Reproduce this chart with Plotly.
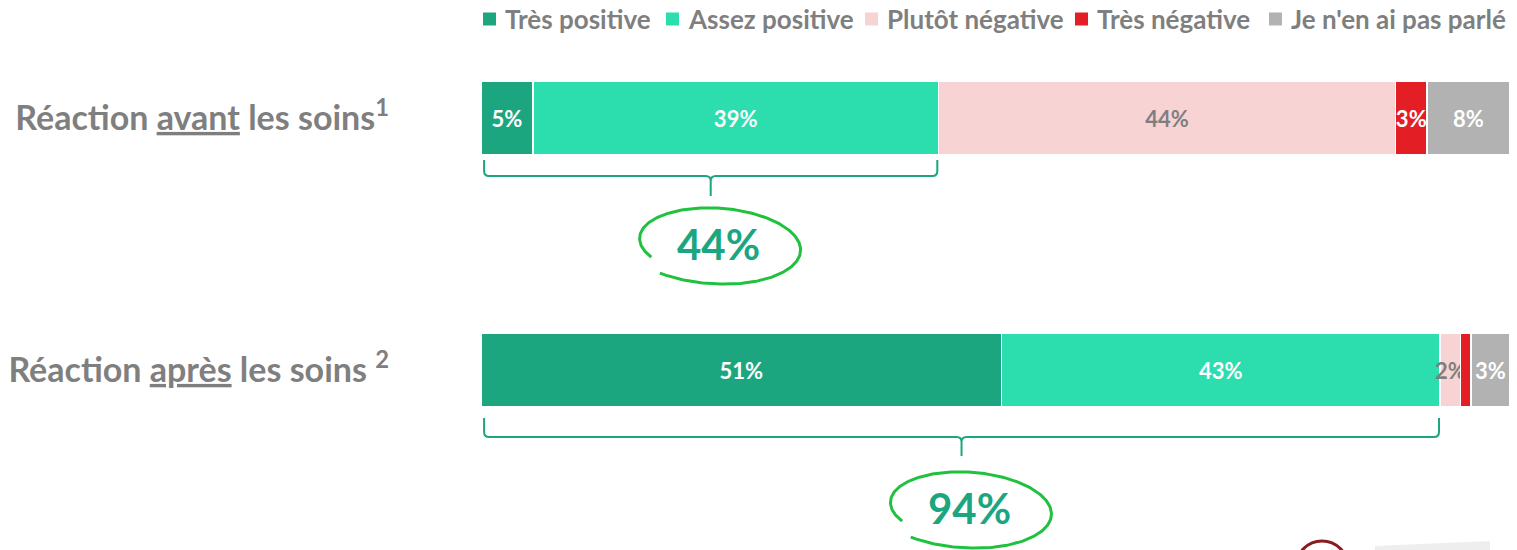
import numpy as np
import plotly.graph_objects as go

# ---------------- data ----------------
ROW_LABELS = ["<b>Réaction <u>avant</u> les soins<sup>1</sup></b>",
              "<b>Réaction <u>après</u> les soins <sup>2</sup></b>"]
ROW_Y = [1, 0]
CATEGORIES = ["Très positive", "Assez positive", "Plutôt négative", "Très négative", "Je n'en ai pas parlé"]
VALUES_AVANT = [5, 39, 44, 3, 8]
VALUES_APRES = [50.6, 42.6, 2.0, 1.0, 3.8]
LABELS_AVANT = ["5%", "39%", "44%", "3%", "8%"]
LABELS_APRES = ["51%", "43%", "2%", "", "3%"]
POSITIVE_TOTAL_LABELS = ["44%", "94%"]

# ---------------- style ----------------
COLORS = ["#1CA680", "#2CDDAE", "#F8D3D4", "#E31E25", "#B1B2B1"]
TEXT_COLORS = ["white", "white", "#7F7F7F", "white", "white"]
GRAY = "#7F7F7F"
BRACE_COLOR = "#1CA680"
ELLIPSE_COLOR = "#1FC13E"
FONT = "Lato"

W, H = 1517, 550
M_L, M_R, M_T, M_B = 481, 7, 30, 0
PLOT_W = W - M_L - M_R
PLOT_H = H - M_T - M_B
ROW_PX = [118, 370]               # pixel centre of each row
PX_Y = ROW_PX[1] - ROW_PX[0]      # pixels per y unit
PX_X = PLOT_W / 100.0             # pixels per x unit
Y_TOP = ROW_Y[0] + (ROW_PX[0] - M_T) / PX_Y
Y_BOT = Y_TOP - PLOT_H / PX_Y

BRACE_OFFS = [(42, 58, 78), (48, 67, 86)]   # px below row centre: top, line, tip
ELLIPSE_OFF = [126, 138]
ELLIPSE_DX = 5

fig = go.Figure()
series = [VALUES_AVANT, VALUES_APRES]
labels = [LABELS_AVANT, LABELS_APRES]
for i, cat in enumerate(CATEGORIES):
    fig.add_trace(go.Bar(
        orientation="h", name=cat,
        y=ROW_Y, x=[series[0][i], series[1][i]],
        marker=dict(color=COLORS[i], line=dict(color="white", width=1.5)),
        text=[labels[0][i], labels[1][i]],
        textposition="inside", insidetextanchor="middle",
        constraintext="none", textangle=0,
        textfont=dict(family=FONT, size=22, color=TEXT_COLORS[i], weight=700),
        width=73 / PX_Y, hoverinfo="skip", showlegend=False,
    ))

shapes = []
annotations = []
for r, vals in enumerate(series):
    total = sum(vals)
    pos_end = (vals[0] + vals[1]) / total * 100
    yc = ROW_Y[r]
    top, line, tip = BRACE_OFFS[r]
    y_top = yc - top / PX_Y
    y_line = yc - line / PX_Y
    y_tip = yc - tip / PX_Y
    hx, hy = 5 / PX_X, 5 / PX_Y
    x0, x1 = 0.3, pos_end - 0.1
    xm = (x0 + x1) / 2
    path = (f"M{x0},{y_top} L{x0},{y_line + hy} Q{x0},{y_line} {x0 + hx},{y_line} "
            f"L{xm - hx},{y_line} Q{xm},{y_line} {xm},{y_line - hy} L{xm},{y_tip} "
            f"M{x1},{y_top} L{x1},{y_line + hy} Q{x1},{y_line} {x1 - hx},{y_line} "
            f"L{xm + hx},{y_line} Q{xm},{y_line} {xm},{y_line - hy}")
    shapes.append(dict(type="path", xref="x", yref="y", path=path,
                       line=dict(color=BRACE_COLOR, width=2)))

    # hand-drawn ellipse
    cx = xm + ELLIPSE_DX / PX_X
    cy = yc - ELLIPSE_OFF[r] / PX_Y
    t = np.linspace(np.radians(212), np.radians(212 - 338), 240)
    s = np.linspace(0, 1, t.size)
    rr = 0.9 + 0.2 * s
    rx, ry = 83, 37
    xs = rx * rr * np.cos(t)
    ys = -ry * rr * np.sin(t)
    phi = np.radians(4)
    X = xs * np.cos(phi) - ys * np.sin(phi)
    Y = xs * np.sin(phi) + ys * np.cos(phi)
    fig.add_trace(go.Scatter(x=cx + X / PX_X, y=cy - Y / PX_Y, mode="lines",
                             line=dict(color=ELLIPSE_COLOR, width=3),
                             hoverinfo="skip", showlegend=False))
    annotations.append(dict(x=cx + 3 / PX_X, y=cy, xref="x", yref="y",
                            text=f"<b>{POSITIVE_TOTAL_LABELS[r]}</b>", showarrow=False,
                            font=dict(family=FONT, size=42, color=BRACE_COLOR)))

# manual legend (top right)
LEGEND_PX = [483, 666, 865, 1075, 1269]
LEG_Y = 19
for i, cat in enumerate(CATEGORIES):
    px0 = LEGEND_PX[i]
    shapes.append(dict(type="rect", xref="paper", yref="paper",
                       x0=(px0 - M_L) / PLOT_W, x1=(px0 + 13 - M_L) / PLOT_W,
                       y0=(H - M_B - (LEG_Y + 6.5)) / PLOT_H, y1=(H - M_B - (LEG_Y - 6.5)) / PLOT_H,
                       fillcolor=COLORS[i], line=dict(width=0)))
    annotations.append(dict(x=(px0 + 20 - M_L) / PLOT_W, y=(H - M_B - LEG_Y) / PLOT_H,
                            xref="paper", yref="paper", xanchor="left", yanchor="middle",
                            text=f"<b>{cat}</b>", showarrow=False,
                            font=dict(family=FONT, size=26, color=GRAY)))

# partial logo at bottom right
shapes.append(dict(type="path", xref="paper", yref="paper",
                   path=f"M{(1375 - M_L) / PLOT_W},{(H - 550) / PLOT_H} L{(1375 - M_L) / PLOT_W},{(H - 546) / PLOT_H} "
                        f"L{(1490 - M_L) / PLOT_W},{(H - 541) / PLOT_H} L{(1490 - M_L) / PLOT_W},{(H - 550) / PLOT_H} Z",
                   fillcolor="#EEEEEE", line=dict(width=0)))
shapes.append(dict(type="circle", xref="paper", yref="paper",
                   x0=(1296 - M_L) / PLOT_W, x1=(1348 - M_L) / PLOT_W,
                   y0=(H - 593) / PLOT_H, y1=(H - 541) / PLOT_H,
                   line=dict(color="#8B1C1C", width=3)))

fig.update_layout(
    width=W, height=H, barmode="stack", barnorm="percent",
    margin=dict(l=M_L, r=M_R, t=M_T, b=M_B),
    paper_bgcolor="white", plot_bgcolor="white",
    xaxis=dict(range=[0, 100], visible=False, fixedrange=True),
    yaxis=dict(range=[Y_BOT, Y_TOP], tickvals=ROW_Y, ticktext=ROW_LABELS,
               showgrid=False, zeroline=False, showline=False, ticks="",
               ticklabelstandoff=91,
               tickfont=dict(family=FONT, size=34, color=GRAY), fixedrange=True),
    shapes=shapes, annotations=annotations, showlegend=False,
)

fig.write_html("out.html", config={"displayModeBar": False},
               post_script="document.body.style.margin='0';")
